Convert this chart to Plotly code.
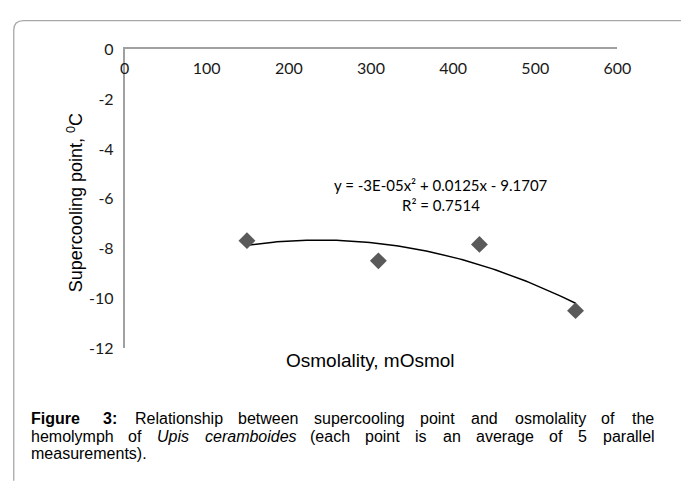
import numpy as np
import plotly.graph_objects as go

# ---- data -------------------------------------------------------------
osmolality = [149, 309, 432, 549]
scp = [-7.68, -8.49, -7.83, -10.49]
x_ticks = [0, 100, 200, 300, 400, 500, 600]
y_ticks = [0, -2, -4, -6, -8, -10, -12]
y_tick_text = ["0", "-2", "-4", "-6", "-8", "-10", "-12"]
equation_text = "y = -3E-05x² + 0.0125x - 9.1707"
r2_text = "R² = 0.7514"
x_title = "Osmolality, mOsmol"
y_title = "Supercooling point, <sup>0</sup>C"
caption_line1 = [("Figure", "b"), ("3:", "b"), ("Relationship", ""), ("between", ""),
                 ("supercooling", ""), ("point", ""), ("and", ""), ("osmolality", ""),
                 ("of", ""), ("the", "")]
caption_line2 = [("hemolymph", ""), ("of", ""), ("Upis", "i"), ("ceramboides", "i"),
                 ("(each", ""), ("point", ""), ("is", ""), ("an", ""), ("average", ""),
                 ("of", ""), ("5", ""), ("parallel", "")]
caption_line3 = "measurements)."

W, H = 681, 486


def px(x):
    return x / W


def py(y):
    return 1 - y / H


# Arial-compatible advance widths (per 1000 em)
REG = {' ': 278, '(': 333, ')': 333, ',': 278, '-': 333, '.': 278, ':': 278}
REG.update({d: 556 for d in "0123456789"})
REG.update(dict(a=556, b=556, c=500, d=556, e=556, f=278, g=556, h=556, i=222, j=222,
                k=500, l=222, m=833, n=556, o=556, p=556, q=556, r=333, s=500, t=278,
                u=556, v=500, w=722, x=500, y=500, z=500))
REG.update(dict(F=611, U=722, R=722))
BOLD = dict(REG)
BOLD.update(dict(F=611, i=278, g=611, u=611, r=389, e=556, l=278))
BOLD[':'] = 333


def text_width(word, style, size):
    table = BOLD if style == "b" else REG
    return sum(table.get(ch, 556) for ch in word) * size / 1000.0


coef = np.polyfit(osmolality, scp, 2)
xf = np.linspace(min(osmolality), max(osmolality), 100)
yf = np.polyval(coef, xf)

fig = go.Figure()
fig.add_trace(go.Scatter(x=xf, y=yf, mode="lines", line=dict(color="black", width=1.5),
                         hoverinfo="skip", showlegend=False))
fig.add_trace(go.Scatter(x=osmolality, y=scp, mode="markers",
                         marker=dict(symbol="diamond", size=13, color="#5a5a5a"),
                         showlegend=False))

tickfont = dict(family="Lato", size=16, color="#1a1a1a")
fig.update_layout(
    width=W, height=H,
    margin=dict(l=0, r=0, t=0, b=0),
    paper_bgcolor="white", plot_bgcolor="white",
    xaxis=dict(domain=[px(123), px(630)], range=[0, 600], tickvals=x_ticks,
               side="top", ticklabelposition="inside", ticklabeloverflow="allow",
               ticklabelstandoff=14,
               showline=True, linecolor="#a0a0a0", linewidth=1.5, showgrid=False,
               zeroline=False, ticks="", tickfont=tickfont, anchor="y"),
    yaxis=dict(domain=[py(352), py(41)], range=[-12, 0], tickvals=y_ticks,
               ticktext=y_tick_text,
               showline=True, linecolor="#a0a0a0", linewidth=1.5, showgrid=False,
               zeroline=False, ticks="", tickfont=tickfont, ticklabelstandoff=6),
)

ann = []
ann.append(dict(x=px(449), y=py(182), xref="paper", yref="paper", text=equation_text,
                xanchor="center", yanchor="middle",
                showarrow=False, font=dict(family="Lato", size=15, color="black")))
ann.append(dict(x=px(449), y=py(203), xref="paper", yref="paper", text=r2_text,
                xanchor="center", yanchor="middle",
                showarrow=False, font=dict(family="Lato", size=15, color="black")))
ann.append(dict(x=px(376), y=py(365), xref="paper", yref="paper", text=x_title,
                xanchor="center", yanchor="middle",
                showarrow=False, font=dict(family="Liberation Sans", size=19, color="black")))
ann.append(dict(x=px(72), y=py(200), xref="paper", yref="paper", text=y_title,
                xanchor="center", yanchor="middle",
                textangle=-90, showarrow=False,
                font=dict(family="Liberation Sans", size=18, color="black")))

CAP_SIZE = 16
CAP_X0, CAP_X1 = 27, 667
cap_font = dict(family="Liberation Sans", size=CAP_SIZE, color="black")


def add_justified(words, ycen, gap_weights):
    widths = [text_width(w, s, CAP_SIZE) for w, s in words]
    free = (CAP_X1 - CAP_X0) - sum(widths)
    unit = free / sum(gap_weights)
    x = CAP_X0
    for k, ((w, s), wd) in enumerate(zip(words, widths)):
        txt = f"<{s}>{w}</{s}>" if s else w
        ann.append(dict(x=px(x), y=py(ycen), xref="paper", yref="paper", text=txt,
                        xanchor="left", yanchor="middle", showarrow=False,
                        borderpad=0, borderwidth=0, font=cap_font))
        if k < len(gap_weights):
            x += wd + unit * gap_weights[k]


add_justified(caption_line1, 425, [1.4] + [1] * (len(caption_line1) - 2))
add_justified(caption_line2, 443.5, [1] * (len(caption_line2) - 1))
ann.append(dict(x=px(CAP_X0), y=py(462), xref="paper", yref="paper", text=caption_line3,
                xanchor="left", yanchor="middle", showarrow=False,
                borderpad=0, borderwidth=0, font=cap_font))
fig.update_layout(annotations=ann)

r = 10
path = (f"M {px(9)},{py(490)} L {px(9)},{py(11 + r)} Q {px(9)},{py(11)} {px(9 + r)},{py(11)} "
        f"L {px(700)},{py(11)}")
fig.add_shape(type="path", path=path, xref="paper", yref="paper",
              line=dict(color="#a8a8a8", width=1.3))

fig.write_html(
    "out.html",
    config={"displayModeBar": False},
    post_script="document.body.style.margin='0';document.body.style.overflow='hidden';",
)
